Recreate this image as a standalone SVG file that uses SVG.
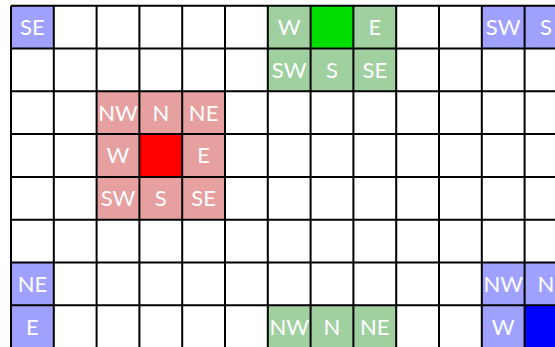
<svg xmlns="http://www.w3.org/2000/svg" width="555" height="347" viewBox="0 0 555 347">
<style>
.lb{fill:#a0a0ff}.db{fill:#0000ff}.lr{fill:#e6a0a0}.dr{fill:#ff0000}.lg{fill:#a0d0a0}.dg{fill:#00dd00}
text{font-family:Lato,"Open Sans","DejaVu Sans",sans-serif;font-size:22px;fill:#fff;text-anchor:middle}
.grid line{stroke:#000;stroke-width:2}
</style>
<rect width="555" height="347" fill="#fff"/>
<g id="blue-se"><rect class="lb" x="11" y="5.7" width="42.8" height="42.8"/><text x="32.4" y="35">SE</text></g>
<g id="green-w"><rect class="lg" x="267.8" y="5.7" width="42.8" height="42.8"/><text x="289.2" y="35">W</text></g>
<g id="green-center"><rect class="dg" x="310.6" y="5.7" width="42.8" height="42.8"/></g>
<g id="green-e"><rect class="lg" x="353.4" y="5.7" width="42.8" height="42.8"/><text x="374.8" y="35">E</text></g>
<g id="blue-sw"><rect class="lb" x="481.8" y="5.7" width="42.8" height="42.8"/><text x="503.2" y="35">SW</text></g>
<g id="blue-s"><rect class="lb" x="524.6" y="5.7" width="42.8" height="42.8"/><text x="546" y="35">S</text></g>
<g id="green-sw"><rect class="lg" x="267.8" y="48.5" width="42.8" height="42.8"/><text x="289.2" y="77.8">SW</text></g>
<g id="green-s"><rect class="lg" x="310.6" y="48.5" width="42.8" height="42.8"/><text x="332" y="77.8">S</text></g>
<g id="green-se"><rect class="lg" x="353.4" y="48.5" width="42.8" height="42.8"/><text x="374.8" y="77.8">SE</text></g>
<g id="red-nw"><rect class="lr" x="96.6" y="91.3" width="42.8" height="42.8"/><text x="118" y="120.6">NW</text></g>
<g id="red-n"><rect class="lr" x="139.4" y="91.3" width="42.8" height="42.8"/><text x="160.8" y="120.6">N</text></g>
<g id="red-ne"><rect class="lr" x="182.2" y="91.3" width="42.8" height="42.8"/><text x="203.6" y="120.6">NE</text></g>
<g id="red-w"><rect class="lr" x="96.6" y="134.1" width="42.8" height="42.8"/><text x="118" y="163.4">W</text></g>
<g id="red-center"><rect class="dr" x="139.4" y="134.1" width="42.8" height="42.8"/></g>
<g id="red-e"><rect class="lr" x="182.2" y="134.1" width="42.8" height="42.8"/><text x="203.6" y="163.4">E</text></g>
<g id="red-sw"><rect class="lr" x="96.6" y="176.9" width="42.8" height="42.8"/><text x="118" y="206.2">SW</text></g>
<g id="red-s"><rect class="lr" x="139.4" y="176.9" width="42.8" height="42.8"/><text x="160.8" y="206.2">S</text></g>
<g id="red-se"><rect class="lr" x="182.2" y="176.9" width="42.8" height="42.8"/><text x="203.6" y="206.2">SE</text></g>
<g id="blue-ne"><rect class="lb" x="11" y="262.5" width="42.8" height="42.8"/><text x="32.4" y="291.8">NE</text></g>
<g id="blue-nw"><rect class="lb" x="481.8" y="262.5" width="42.8" height="42.8"/><text x="503.2" y="291.8">NW</text></g>
<g id="blue-n"><rect class="lb" x="524.6" y="262.5" width="42.8" height="42.8"/><text x="546" y="291.8">N</text></g>
<g id="blue-e"><rect class="lb" x="11" y="305.3" width="42.8" height="42.8"/><text x="32.4" y="334.6">E</text></g>
<g id="green-nw"><rect class="lg" x="267.8" y="305.3" width="42.8" height="42.8"/><text x="289.2" y="334.6">NW</text></g>
<g id="green-n"><rect class="lg" x="310.6" y="305.3" width="42.8" height="42.8"/><text x="332" y="334.6">N</text></g>
<g id="green-ne"><rect class="lg" x="353.4" y="305.3" width="42.8" height="42.8"/><text x="374.8" y="334.6">NE</text></g>
<g id="blue-w"><rect class="lb" x="481.8" y="305.3" width="42.8" height="42.8"/><text x="503.2" y="334.6">W</text></g>
<g id="blue-center"><rect class="db" x="524.6" y="305.3" width="42.8" height="42.8"/></g>
<g class="grid" id="connectors">
<line x1="11" y1="5.7" x2="11" y2="347"/>
<line x1="53.8" y1="5.7" x2="53.8" y2="347"/>
<line x1="96.6" y1="5.7" x2="96.6" y2="347"/>
<line x1="139.4" y1="5.7" x2="139.4" y2="347"/>
<line x1="182.2" y1="5.7" x2="182.2" y2="347"/>
<line x1="225" y1="5.7" x2="225" y2="347"/>
<line x1="267.8" y1="5.7" x2="267.8" y2="347"/>
<line x1="310.6" y1="5.7" x2="310.6" y2="347"/>
<line x1="353.4" y1="5.7" x2="353.4" y2="347"/>
<line x1="396.2" y1="5.7" x2="396.2" y2="347"/>
<line x1="439" y1="5.7" x2="439" y2="347"/>
<line x1="481.8" y1="5.7" x2="481.8" y2="347"/>
<line x1="524.6" y1="5.7" x2="524.6" y2="347"/>
<line x1="11" y1="5.7" x2="555" y2="5.7"/>
<line x1="11" y1="48.5" x2="555" y2="48.5"/>
<line x1="11" y1="91.3" x2="555" y2="91.3"/>
<line x1="11" y1="134.1" x2="555" y2="134.1"/>
<line x1="11" y1="176.9" x2="555" y2="176.9"/>
<line x1="11" y1="219.7" x2="555" y2="219.7"/>
<line x1="11" y1="262.5" x2="555" y2="262.5"/>
<line x1="11" y1="305.3" x2="555" y2="305.3"/>
</g>
</svg>
